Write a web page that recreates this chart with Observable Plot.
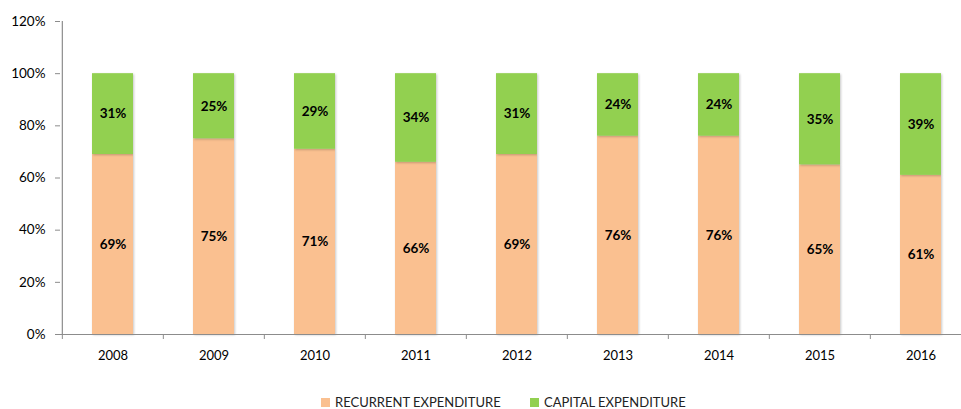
<!DOCTYPE html>
<html>
<head>
<meta charset="utf-8">
<script src="https://cdn.jsdelivr.net/npm/d3@7"></script>
<script src="https://cdn.jsdelivr.net/npm/@observablehq/plot@0.6"></script>
<style>
  body { margin: 0; background: #fff; font-family: Lato, "Open Sans", sans-serif; }
  #chart { width: 961px; height: 409px; overflow: hidden; position: relative; }
  .legend { position: absolute; top: 396px; left: 0; width: 961px; height: 13px; font-size: 13px; line-height: 13px; color: #222; }
  .legend span.item { position: absolute; top: 0; display: flex; align-items: center; white-space: nowrap; line-height: 13px; }
  .legend span.sw { display: inline-block; width: 9px; height: 9px; margin-right: 5px; }
</style>
</head>
<body>
<div id="chart"></div>
<script>
const years = ["2008","2009","2010","2011","2012","2013","2014","2015","2016"];
const recurrent = [69, 75, 71, 66, 69, 76, 76, 65, 61];
const capital = [31, 25, 29, 34, 31, 24, 24, 35, 39];
const seriesNames = ["RECURRENT EXPENDITURE", "CAPITAL EXPENDITURE"];
const seriesColors = ["#FAC090", "#92D050"];
const yTicks = [0, 20, 40, 60, 80, 100, 120];

const rows = [];
years.forEach((y, i) => {
  rows.push({year: y, series: seriesNames[0], value: recurrent[i]});
  rows.push({year: y, series: seriesNames[1], value: capital[i]});
});

const step = (972 - 60) / years.length;
const axisColor = "#8c8c8c";

const plot = Plot.plot({
  width: 961,
  height: 385,
  marginLeft: 60,
  marginRight: -11,
  marginTop: 21,
  marginBottom: 51,
  style: {fontFamily: "Lato, 'Open Sans', sans-serif", fontSize: "13px", color: "#000", background: "#fff"},
  x: {domain: years, padding: 0, label: null},
  y: {domain: [0, 120], label: null},
  color: {domain: seriesNames, range: seriesColors},
  marks: [
    Plot.barY(rows, Plot.stackY({order: seriesNames, x: "year", y: "value", z: "series", fill: "series", insetLeft: 30, insetRight: 30})),
    Plot.text(rows, Plot.stackY({order: seriesNames, x: "year", y: "value", z: "series", text: d => d.value + "%", fontWeight: "bold", fontSize: 13.5, fill: "#000"})),
    Plot.ruleY([0], {stroke: axisColor, strokeWidth: 1.2}),
    Plot.ruleX([0], {x: () => years[0], y1: 0, y2: 120, dx: -step / 2, stroke: axisColor, strokeWidth: 1.2}),
    Plot.axisY({ticks: yTicks, tickFormat: d => d + "%", tickSize: 5, stroke: axisColor, tickPadding: 10, fontSize: 13.5, fill: "#000"}),
    Plot.axisX({tickSize: 5, text: null, dx: -step / 2, stroke: axisColor}),
    Plot.axisX({tickSize: 0, tickPadding: 16, fontSize: 13, fill: "#000"})
  ]
});
plot.style.display = "block";
plot.style.overflow = "visible";
d3.select(plot).selectAll("g[aria-label='bar'] rect").style("filter", "drop-shadow(1.5px 1px 1px rgba(0,0,0,0.22))");
const chart = document.getElementById("chart");
chart.appendChild(plot);

const legend = document.createElement("div");
legend.className = "legend";
const legendX = [321, 530];
seriesNames.forEach((name, i) => {
  const item = document.createElement("span");
  item.className = "item";
  item.style.left = legendX[i] + "px";
  item.innerHTML = `<span class="sw" style="background:${seriesColors[i]}"></span>${name}`;
  legend.appendChild(item);
});
chart.appendChild(legend);
</script>
</body>
</html>
